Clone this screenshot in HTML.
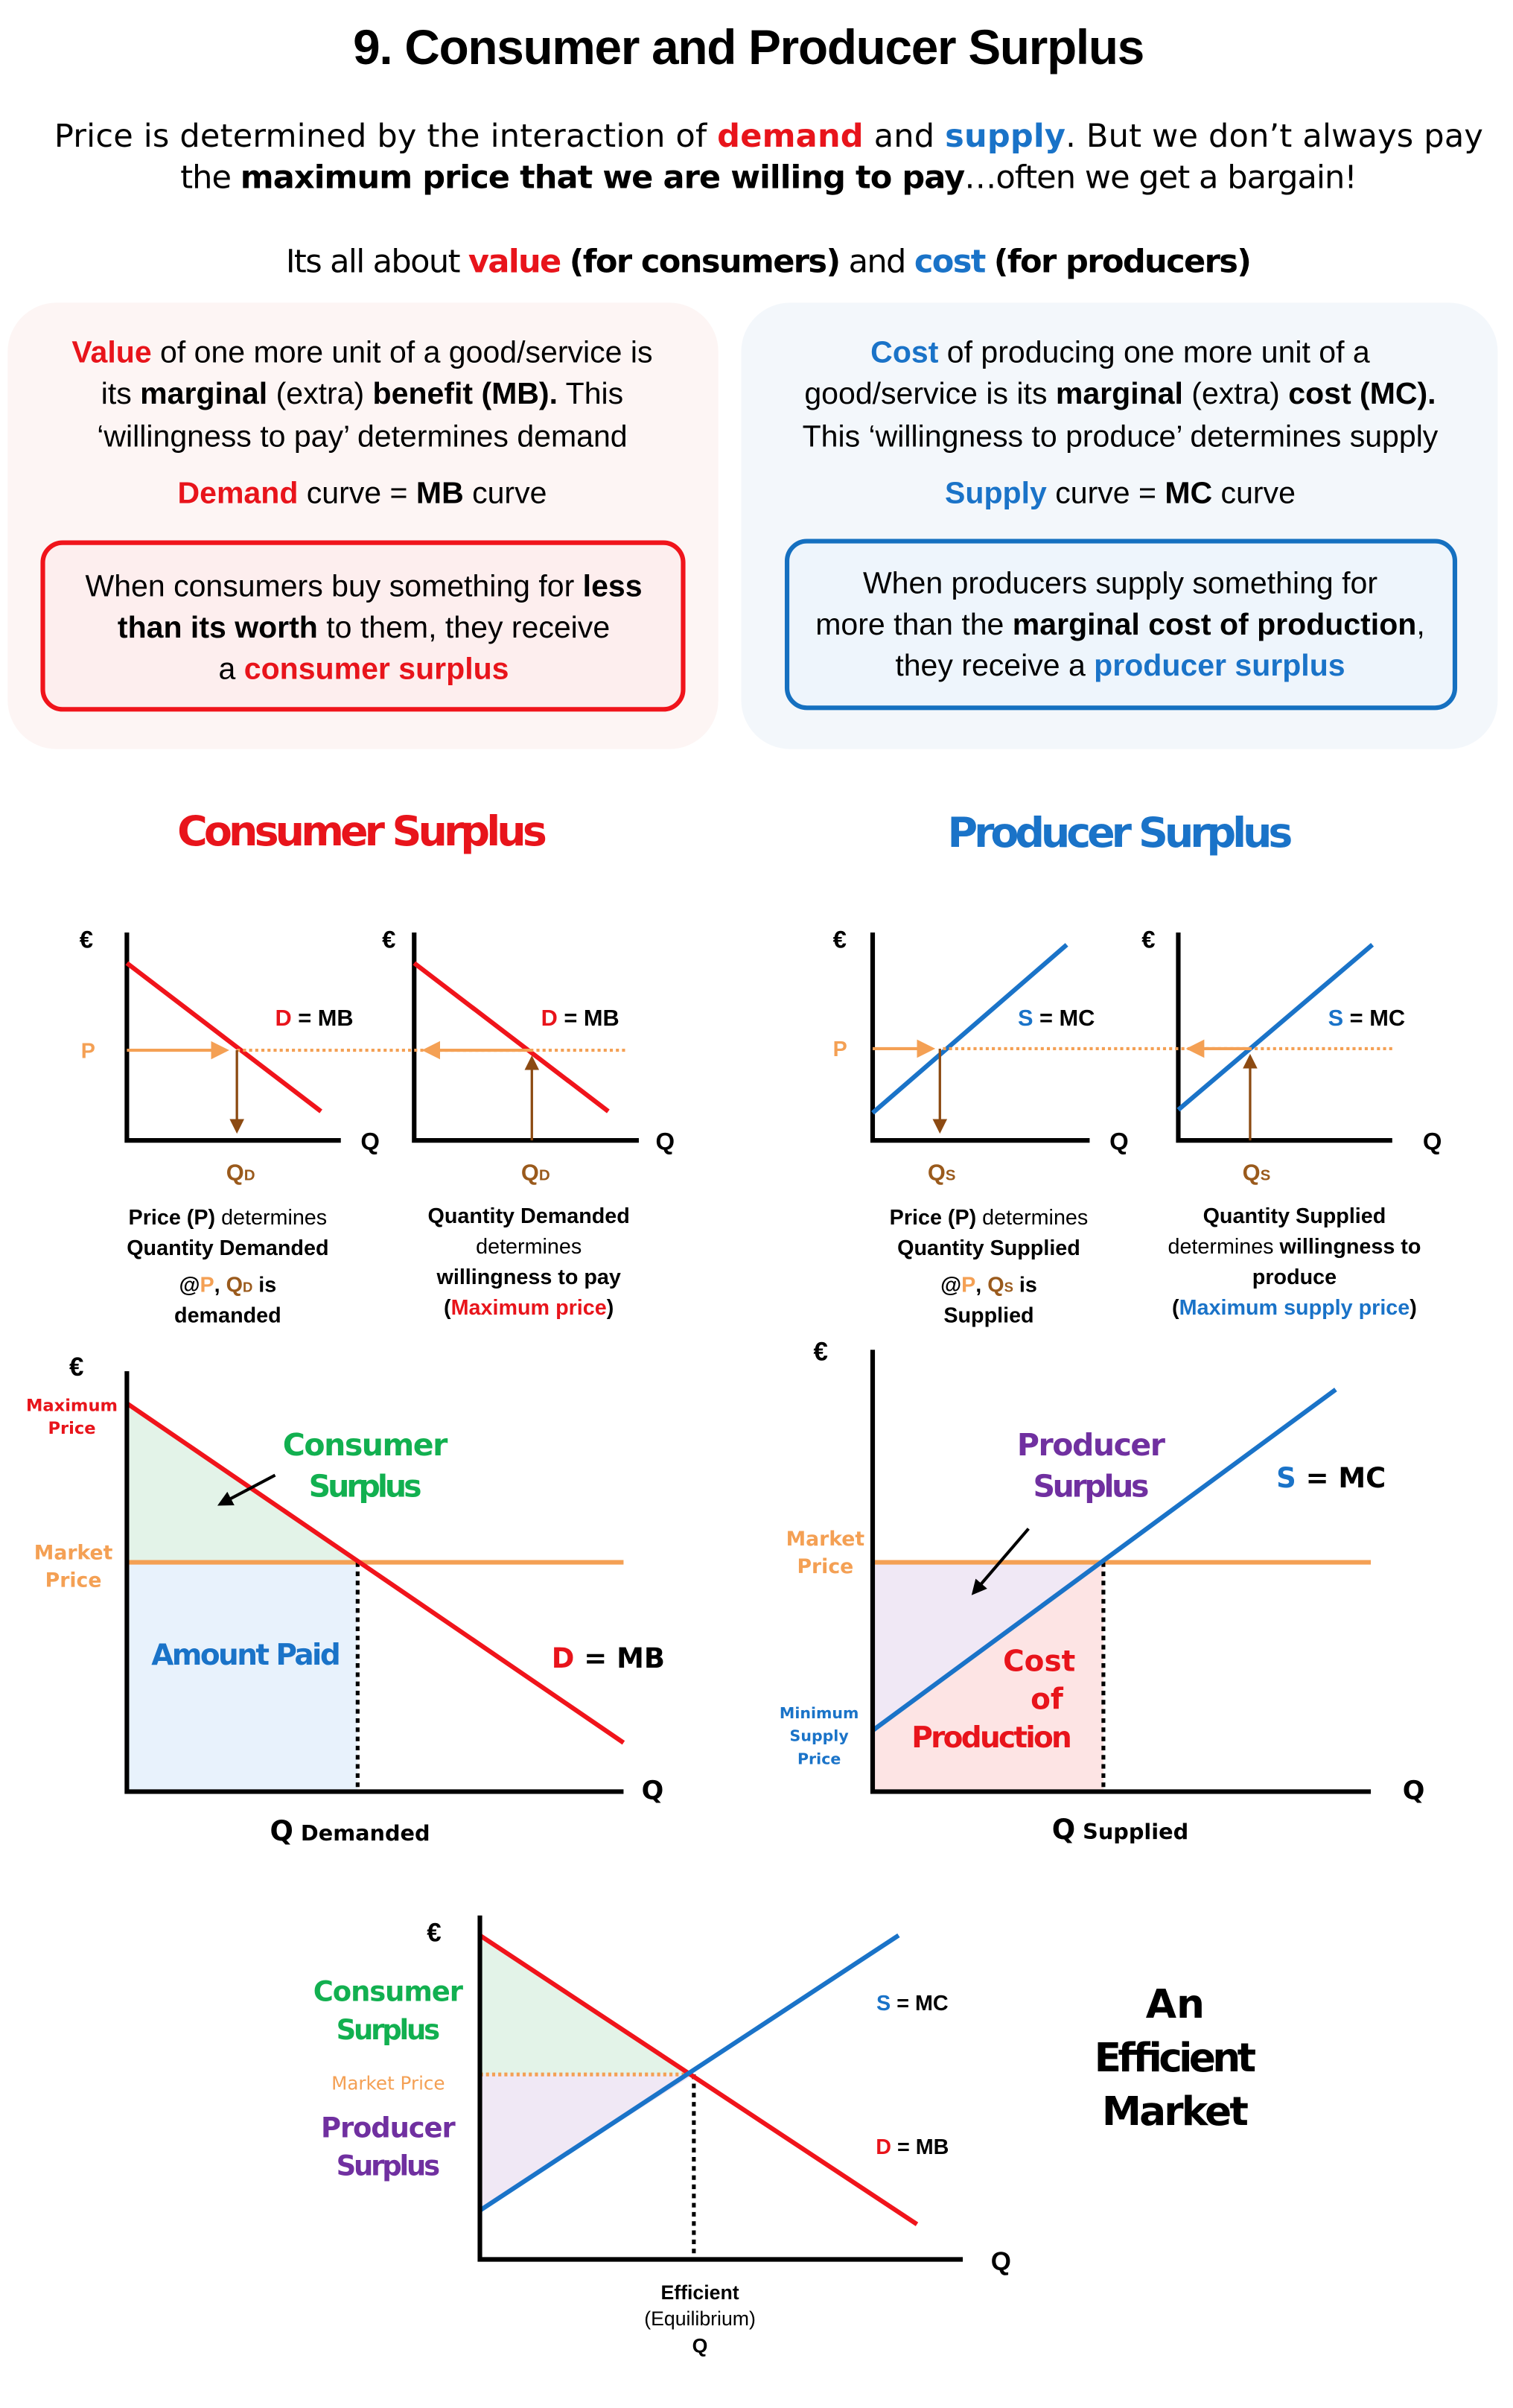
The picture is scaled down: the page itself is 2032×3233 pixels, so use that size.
<!DOCTYPE html>
<html><head><meta charset="utf-8"><style>
html,body{margin:0;padding:0;background:#fff;width:2032px;height:3233px;overflow:hidden}
svg{display:block}
.c{font-family:"Liberation Sans",sans-serif}
.g{font-family:"DejaVu Sans","Liberation Sans",sans-serif}
.b{font-weight:bold}
</style></head><body>
<svg width="2032" height="3233" viewBox="0 0 990 1575.2" xmlns="http://www.w3.org/2000/svg">
<defs>
<marker id="ao" markerWidth="6" markerHeight="6" refX="5" refY="3" orient="auto" markerUnits="strokeWidth"><path d="M0,0 L6,3 L0,6 z" fill="#f4a054"/></marker>
<marker id="ab" markerWidth="6" markerHeight="6" refX="5" refY="3" orient="auto" markerUnits="strokeWidth"><path d="M0,0 L6,3 L0,6 z" fill="#8c4a12"/></marker>
<marker id="ak" markerWidth="5" markerHeight="5" refX="4" refY="2.5" orient="auto" markerUnits="strokeWidth"><path d="M0,0 L5,2.5 L0,5 z" fill="#000"/></marker>
</defs>
<text x="490" y="42" text-anchor="middle" class="c b" font-size="32" textLength="518">9. Consumer and Producer Surplus</text>
<text x="503" y="96" text-anchor="middle" class="g" font-size="21" textLength="935">Price is determined by the interaction of <tspan fill="#e8141b" font-weight="bold">demand</tspan> and <tspan fill="#1a73c8" font-weight="bold">supply</tspan>. But we don’t always pay</text>
<text x="503" y="123" text-anchor="middle" class="g" font-size="21" textLength="770">the <tspan font-weight="bold">maximum price that we are willing to pay</tspan>…often we get a bargain!</text>
<text x="503" y="178" text-anchor="middle" class="g" font-size="21" textLength="632">Its all about <tspan fill="#e8141b" font-weight="bold">value</tspan> <tspan font-weight="bold">(for consumers)</tspan> and <tspan fill="#1a73c8" font-weight="bold">cost</tspan> <tspan font-weight="bold">(for producers)</tspan></text>

<rect x="5" y="198" width="465" height="292" rx="32" fill="#fdf5f4"/>
<rect x="485" y="198" width="495" height="292" rx="32" fill="#f3f7fb"/>
<g class="c" font-size="20" text-anchor="middle">
<text x="237" y="237"><tspan fill="#e8141b" font-weight="bold">Value</tspan> of one more unit of a good/service is</text>
<text x="237" y="264">its <tspan font-weight="bold">marginal</tspan> (extra) <tspan font-weight="bold">benefit (MB).</tspan> This</text>
<text x="237" y="292">‘willingness to pay’ determines demand</text>
<text x="237" y="329"><tspan fill="#e8141b" font-weight="bold">Demand</tspan> curve = <tspan font-weight="bold">MB</tspan> curve</text>
<text x="733" y="237"><tspan fill="#1a73c8" font-weight="bold">Cost</tspan> of producing one more unit of a</text>
<text x="733" y="264">good/service is its <tspan font-weight="bold">marginal</tspan> (extra) <tspan font-weight="bold">cost (MC).</tspan></text>
<text x="733" y="292">This ‘willingness to produce’ determines supply</text>
<text x="733" y="329"><tspan fill="#1a73c8" font-weight="bold">Supply</tspan> curve = <tspan font-weight="bold">MC</tspan> curve</text>
</g>
<rect x="28" y="355" width="419" height="109" rx="13" fill="#fdeeee" stroke="#f0141b" stroke-width="3"/>
<rect x="515" y="354" width="437" height="109" rx="13" fill="#eef5fc" stroke="#1570c0" stroke-width="3"/>
<g class="c" font-size="20" text-anchor="middle">
<text x="238" y="390">When consumers buy something for <tspan font-weight="bold">less</tspan></text>
<text x="238" y="417"><tspan font-weight="bold">than its worth</tspan> to them, they receive</text>
<text x="238" y="444">a <tspan fill="#e8141b" font-weight="bold">consumer surplus</tspan></text>
<text x="733" y="388">When producers supply something for</text>
<text x="733" y="415">more than the <tspan font-weight="bold">marginal cost of production</tspan>,</text>
<text x="733" y="442">they receive a <tspan fill="#1a73c8" font-weight="bold">producer surplus</tspan></text>
</g>

<text x="237" y="553" text-anchor="middle" class="g b" font-size="27" fill="#e8141b" textLength="242">Consumer Surplus</text>
<text x="733" y="554" text-anchor="middle" class="g b" font-size="27" fill="#1a73c8" textLength="226">Producer Surplus</text>

<!-- small charts -->
<g fill="none" stroke-width="3">
<path d="M83,610 V746 H223" stroke="#000"/>
<path d="M271,610 V746 H418" stroke="#000"/>
<path d="M571,610 V746 H713" stroke="#000"/>
<path d="M771,610 V746 H911" stroke="#000"/>
<path d="M83,630 L210,727" stroke="#f0141b"/>
<path d="M271,630 L398,727" stroke="#f0141b"/>
<path d="M571,728 L698,618" stroke="#1a73c8"/>
<path d="M771,726 L898,618" stroke="#1a73c8"/>
</g>
<g stroke="#f4a054" stroke-width="2" fill="none">
<path d="M155,687 H410" stroke-dasharray="2,2"/>
<path d="M617,686 H911" stroke-dasharray="2,2"/>
<path d="M83,687 H148" marker-end="url(#ao)"/>
<path d="M348,687 H278" marker-end="url(#ao)"/>
<path d="M571,686 H610" marker-end="url(#ao)"/>
<path d="M818,686 H778" marker-end="url(#ao)"/>
</g>
<g stroke="#8c4a12" stroke-width="1.6" fill="none">
<path d="M155,687 V740" marker-end="url(#ab)"/>
<path d="M348,746 V692" marker-end="url(#ab)"/>
<path d="M615,686 V740" marker-end="url(#ab)"/>
<path d="M818,746 V691" marker-end="url(#ab)"/>
</g>
<g class="c b" font-size="16">
<text x="52" y="620">€</text><text x="250" y="620">€</text><text x="545" y="620">€</text><text x="747" y="620">€</text>
<text x="53" y="692" fill="#f4a054" font-size="14">P</text><text x="545" y="691" fill="#f4a054" font-size="14">P</text>
<text x="180" y="671" font-size="15"><tspan fill="#e8141b">D</tspan> = MB</text>
<text x="354" y="671" font-size="15"><tspan fill="#e8141b">D</tspan> = MB</text>
<text x="666" y="671" font-size="15"><tspan fill="#1a73c8">S</tspan> = MC</text>
<text x="869" y="671" font-size="15"><tspan fill="#1a73c8">S</tspan> = MC</text>
<text x="236" y="752">Q</text><text x="429" y="752">Q</text><text x="726" y="752">Q</text><text x="931" y="752">Q</text>
<text x="148" y="772" fill="#9a5a1c" font-size="15">Q<tspan font-size="10">D</tspan></text>
<text x="341" y="772" fill="#9a5a1c" font-size="15">Q<tspan font-size="10">D</tspan></text>
<text x="607" y="772" fill="#9a5a1c" font-size="15">Q<tspan font-size="10">S</tspan></text>
<text x="813" y="772" fill="#9a5a1c" font-size="15">Q<tspan font-size="10">S</tspan></text>
</g>
<g class="c" font-size="14" text-anchor="middle">
<text x="149" y="801"><tspan font-weight="bold">Price (P)</tspan> determines</text>
<text x="149" y="821" font-weight="bold">Quantity Demanded</text>
<text x="149" y="845" font-weight="bold">@<tspan fill="#f4a054">P</tspan>, <tspan fill="#9a5a1c">Q<tspan font-size="9">D</tspan></tspan> is</text>
<text x="149" y="865" font-weight="bold">demanded</text>
<text x="346" y="800" font-weight="bold">Quantity Demanded</text>
<text x="346" y="820">determines</text>
<text x="346" y="840" font-weight="bold">willingness to pay</text>
<text x="346" y="860" font-weight="bold">(<tspan fill="#e8141b">Maximum price</tspan>)</text>
<text x="647" y="801"><tspan font-weight="bold">Price (P)</tspan> determines</text>
<text x="647" y="821" font-weight="bold">Quantity Supplied</text>
<text x="647" y="845" font-weight="bold">@<tspan fill="#f4a054">P</tspan>, <tspan fill="#9a5a1c">Q<tspan font-size="9">S</tspan></tspan> is</text>
<text x="647" y="865" font-weight="bold">Supplied</text>
<text x="847" y="800" font-weight="bold">Quantity Supplied</text>
<text x="847" y="820">determines <tspan font-weight="bold">willingness to</tspan></text>
<text x="847" y="840" font-weight="bold">produce</text>
<text x="847" y="860" font-weight="bold">(<tspan fill="#1a73c8">Maximum supply price</tspan>)</text>
</g>

<!-- big consumer chart -->
<polygon points="83,918 234,1022 83,1022" fill="#e3f3e8"/>
<rect x="83" y="1022" width="151" height="150" fill="#e8f2fc"/>
<path d="M83,1022 H408" stroke="#f4a054" stroke-width="3"/>
<path d="M234,1022 V1172" stroke="#000" stroke-width="2.5" stroke-dasharray="3,3"/>
<path d="M83,918 L408,1140" stroke="#f0141b" stroke-width="3"/>
<path d="M83,897 V1172 H408" stroke="#000" stroke-width="3" fill="none"/>
<path d="M180,965 L144,984" stroke="#000" stroke-width="2" marker-end="url(#ak)"/>
<g class="g b" text-anchor="middle">
<text x="50" y="900" font-size="17" font-family="Liberation Sans">€</text>
<text x="47" y="923" font-size="11" fill="#e8141b">Maximum</text>
<text x="47" y="938" font-size="11" fill="#e8141b">Price</text>
<text x="48" y="1020" font-size="13" fill="#f4a054">Market</text>
<text x="48" y="1038" font-size="13" fill="#f4a054">Price</text>
<text x="239" y="952" font-size="20" fill="#12b050" textLength="108">Consumer</text>
<text x="239" y="979" font-size="20" fill="#12b050" textLength="74">Surplus</text>
<text x="161" y="1089" font-size="19" fill="#1a73c8" textLength="124">Amount Paid</text>
<text x="398" y="1091" font-size="18"><tspan fill="#e8141b">D</tspan> = MB</text>
<text x="427" y="1177" font-size="17">Q</text>
<text x="229" y="1204" font-size="14"><tspan font-size="18">Q</tspan> Demanded</text>
</g>

<!-- big producer chart -->
<polygon points="571,1022 722,1022 571,1132" fill="#f0e8f5"/>
<polygon points="571,1132 722,1022 722,1172 571,1172" fill="#fde4e4"/>
<path d="M571,1022 H897" stroke="#f4a054" stroke-width="3"/>
<path d="M722,1022 V1172" stroke="#000" stroke-width="2.5" stroke-dasharray="3,3"/>
<path d="M571,1132 L874,909" stroke="#1a73c8" stroke-width="3"/>
<path d="M571,883 V1172 H897" stroke="#000" stroke-width="3" fill="none"/>
<path d="M673,1000 L637,1042" stroke="#000" stroke-width="2" marker-end="url(#ak)"/>
<g class="g b" text-anchor="middle">
<text x="537" y="890" font-size="17" font-family="Liberation Sans">€</text>
<text x="714" y="952" font-size="20" fill="#7030a0" textLength="97">Producer</text>
<text x="714" y="979" font-size="20" fill="#7030a0" textLength="76">Surplus</text>
<text x="871" y="973" font-size="18"><tspan fill="#1a73c8">S</tspan> = MC</text>
<text x="540" y="1011" font-size="13" fill="#f4a054">Market</text>
<text x="540" y="1029" font-size="13" fill="#f4a054">Price</text>
<text x="536" y="1124" font-size="10" fill="#1a73c8">Minimum</text>
<text x="536" y="1139" font-size="10" fill="#1a73c8">Supply</text>
<text x="536" y="1154" font-size="10" fill="#1a73c8">Price</text>
<text x="680" y="1093" font-size="19" fill="#e8141b">Cost</text>
<text x="685" y="1118" font-size="19" fill="#e8141b">of</text>
<text x="649" y="1143" font-size="19" fill="#e8141b" textLength="105">Production</text>
<text x="925" y="1177" font-size="17">Q</text>
<text x="733" y="1203" font-size="14"><tspan font-size="18">Q</tspan> Supplied</text>
</g>

<!-- efficient market chart -->
<polygon points="314,1266 454,1357 314,1357" fill="#e3f3e8"/>
<polygon points="314,1357 454,1357 314,1446" fill="#f0e8f5"/>
<path d="M314,1357 H454" stroke="#f4a054" stroke-width="2.5" stroke-dasharray="2,2"/>
<path d="M454,1357 V1478" stroke="#000" stroke-width="2.5" stroke-dasharray="3,3"/>
<path d="M314,1266 L600,1455" stroke="#f0141b" stroke-width="3"/>
<path d="M314,1446 L588,1266" stroke="#1a73c8" stroke-width="3"/>
<path d="M314,1253 V1478 H630" stroke="#000" stroke-width="3" fill="none"/>
<g class="g b" text-anchor="middle">
<text x="284" y="1270" font-size="17" font-family="Liberation Sans">€</text>
<text x="254" y="1309" font-size="18" fill="#12b050" textLength="98">Consumer</text>
<text x="254" y="1334" font-size="18" fill="#12b050" textLength="68">Surplus</text>
<text x="254" y="1367" font-size="12" fill="#f4a054" font-weight="normal">Market Price</text>
<text x="254" y="1398" font-size="18" fill="#7030a0" textLength="88">Producer</text>
<text x="254" y="1423" font-size="18" fill="#7030a0" textLength="68">Surplus</text>
<text x="597" y="1315" font-size="14" font-family="Liberation Sans"><tspan fill="#1a73c8">S</tspan> = MC</text>
<text x="597" y="1409" font-size="14" font-family="Liberation Sans"><tspan fill="#e8141b">D</tspan> = MB</text>
<text x="655" y="1485" font-size="17" font-family="Liberation Sans">Q</text>
<text x="769" y="1320" font-size="26">An</text>
<text x="769" y="1355" font-size="26" textLength="106">Efficient</text>
<text x="769" y="1390" font-size="26" textLength="96">Market</text>
</g>
<g class="c" text-anchor="middle" font-size="13">
<text x="458" y="1504" font-weight="bold">Efficient</text>
<text x="458" y="1521">(Equilibrium)</text>
<text x="458" y="1539" font-weight="bold">Q</text>
</g>
</svg>
</body></html>
